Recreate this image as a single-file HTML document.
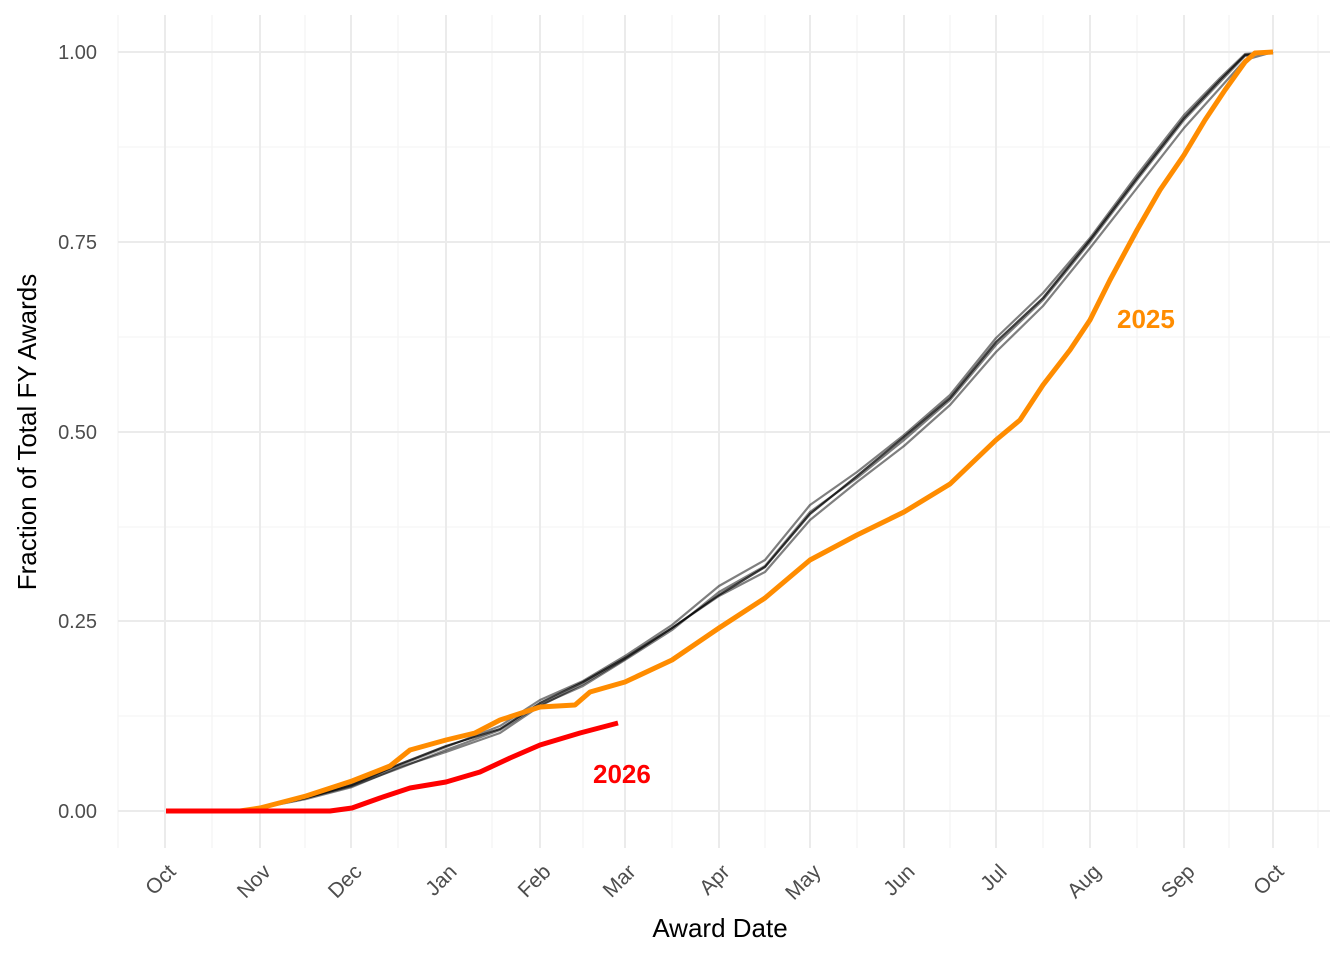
<!DOCTYPE html>
<html><head><style>body{margin:0;background:#fff}</style></head><body>
<svg width="1344" height="960" xmlns="http://www.w3.org/2000/svg" font-family="Liberation Sans, sans-serif">
<rect width="1344" height="960" fill="#fff"/>
<g stroke="#f3f3f3" stroke-width="1.1">
<line x1="118" x2="1330" y1="147" y2="147"/><line x1="118" x2="1330" y1="337" y2="337"/><line x1="118" x2="1330" y1="527" y2="527"/><line x1="118" x2="1330" y1="716" y2="716"/>
<line y1="15" y2="848" x1="118" x2="118"/><line y1="15" y2="848" x1="212" x2="212"/><line y1="15" y2="848" x1="305" x2="305"/><line y1="15" y2="848" x1="398" x2="398"/><line y1="15" y2="848" x1="492" x2="492"/><line y1="15" y2="848" x1="583" x2="583"/><line y1="15" y2="848" x1="672" x2="672"/><line y1="15" y2="848" x1="765" x2="765"/><line y1="15" y2="848" x1="857" x2="857"/><line y1="15" y2="848" x1="950" x2="950"/><line y1="15" y2="848" x1="1043" x2="1043"/><line y1="15" y2="848" x1="1137" x2="1137"/><line y1="15" y2="848" x1="1229" x2="1229"/><line y1="15" y2="848" x1="1318" x2="1318"/>
</g>
<g stroke="#ebebeb" stroke-width="2">
<line x1="118" x2="1330" y1="52" y2="52"/><line x1="118" x2="1330" y1="242" y2="242"/><line x1="118" x2="1330" y1="432" y2="432"/><line x1="118" x2="1330" y1="621" y2="621"/><line x1="118" x2="1330" y1="811" y2="811"/>
<line y1="15" y2="848" x1="165" x2="165"/><line y1="15" y2="848" x1="260" x2="260"/><line y1="15" y2="848" x1="351" x2="351"/><line y1="15" y2="848" x1="446" x2="446"/><line y1="15" y2="848" x1="540" x2="540"/><line y1="15" y2="848" x1="625" x2="625"/><line y1="15" y2="848" x1="719" x2="719"/><line y1="15" y2="848" x1="810" x2="810"/><line y1="15" y2="848" x1="904" x2="904"/><line y1="15" y2="848" x1="996" x2="996"/><line y1="15" y2="848" x1="1090" x2="1090"/><line y1="15" y2="848" x1="1184" x2="1184"/><line y1="15" y2="848" x1="1273" x2="1273"/>
</g>
<g fill="none" stroke="#000" stroke-opacity="0.5" stroke-width="2.2" stroke-linejoin="round">
<polyline points="166,811 240,811 260,808 306,798 352,786 400,768 446,750 500,730 540,705 583,686 625,660 672,630 719,592 765,566 810,512 857,478 904,440 950,400 996,345 1043,300 1090,242 1137,180 1184,120 1220,82 1245,56 1273,52"/>
<polyline points="166,811 240,811 260,808 306,797 352,784 400,765 446,747 500,726 540,700 583,681 625,656 672,625 719,586 765,560 810,505 857,472 904,435 950,395 996,338 1043,293 1090,238 1137,175 1184,115 1220,78 1245,54 1273,52"/>
<polyline points="166,811 240,811 260,808 306,799 352,787 400,767 446,752 500,733 540,706 583,684 625,659 672,628 719,596 765,572 810,520 857,482 904,446 950,405 996,352 1043,306 1090,248 1137,188 1184,128 1220,88 1245,60 1273,52"/>
<polyline points="166,811 240,811 260,808 306,798 352,785 400,764 446,746 500,729 540,703 583,682 625,658 672,628 719,595 765,567 810,514 857,476 904,437 950,398 996,342 1043,298 1090,240 1137,178 1184,118 1220,80 1245,55 1273,52" stroke-opacity="0.75"/>
</g>
<polyline fill="none" stroke="#ff8c00" stroke-width="5" stroke-linejoin="round" points="166,811 240,811 260,808 306,796 352,781 390,766 410,750 446,740 475,733 500,720 540,707 575,705 590,692 625,682 672,660 719,628 765,598 810,560 857,535 904,512 950,484 996,440 1020,420 1043,385 1070,350 1090,320 1110,280 1137,230 1160,190 1184,155 1205,120 1225,90 1245,62 1255,53 1273,52"/>
<polyline fill="none" stroke="#ff0000" stroke-width="5" stroke-linejoin="round" points="166,811 330,811 352,808 380,798 410,788 446,782 480,772 510,758 540,745 580,733 618,723"/>
<text x="1117" y="328" font-size="26" font-weight="bold" fill="#ff8c00">2025</text>
<text x="593" y="783" font-size="26" font-weight="bold" fill="#ff0000">2026</text>
<g font-size="20" fill="#4d4d4d" text-anchor="end">
<text x="97" y="59">1.00</text><text x="97" y="249">0.75</text><text x="97" y="439">0.50</text><text x="97" y="628">0.25</text><text x="97" y="818">0.00</text>
</g>
<g font-size="21" fill="#4d4d4d" text-anchor="end">
<text transform="translate(177,873) rotate(-45)">Oct</text>
<text transform="translate(272,873) rotate(-45)">Nov</text>
<text transform="translate(363,873) rotate(-45)">Dec</text>
<text transform="translate(458,873) rotate(-45)">Jan</text>
<text transform="translate(552,873) rotate(-45)">Feb</text>
<text transform="translate(637,873) rotate(-45)">Mar</text>
<text transform="translate(731,873) rotate(-45)">Apr</text>
<text transform="translate(822,873) rotate(-45)">May</text>
<text transform="translate(916,873) rotate(-45)">Jun</text>
<text transform="translate(1008,873) rotate(-45)">Jul</text>
<text transform="translate(1102,873) rotate(-45)">Aug</text>
<text transform="translate(1196,873) rotate(-45)">Sep</text>
<text transform="translate(1285,873) rotate(-45)">Oct</text>
</g>
<text x="720" y="937" font-size="26" text-anchor="middle" fill="#000">Award Date</text>
<text transform="translate(36,432) rotate(-90)" font-size="26" text-anchor="middle" fill="#000">Fraction of Total FY Awards</text>
</svg>
</body></html>
